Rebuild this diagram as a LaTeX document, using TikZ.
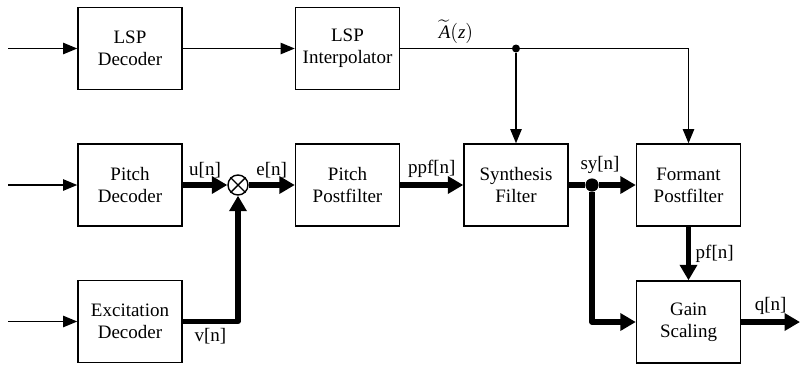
\documentclass[tikz,border=0pt]{standalone}
\usepackage{amsmath}
\usepackage{fontspec}
\setmainfont{Liberation Serif}
\usetikzlibrary{arrows.meta}

\begin{document}
\begin{tikzpicture}[x=0.025cm,y=-0.025cm,
    blk/.style={draw,line width=1pt,minimum width=2.6cm,minimum height=2.05cm,align=center,font=\fontsize{13.5}{15.5}\selectfont},
    lbl/.style={font=\fontsize{13.5}{15.5}\selectfont},
    sig/.style={line width=1pt,-{Triangle[length=10pt,width=8pt]}},
    bus/.style={line width=3.6pt,line join=round,-{Triangle[length=11pt,width=12pt]}},
    dot/.style={circle,fill,inner sep=0pt}]
\useasboundingbox (0,0) rectangle (800,364);

    \node[blk] (lspd) at (130,48.5) {LSP\\Decoder};
    \node[blk] (lspi) at (347.5,48.5) {LSP\\Interpolator};
    \node[blk] (pd) at (130,185) {Pitch\\Decoder};
    \node[blk] (pp) at (347.5,185) {Pitch\\Postfilter};
    \node[blk] (sf) at (516,185) {Synthesis\\Filter};
    \node[blk] (fp) at (688.5,185) {Formant\\Postfilter};
    \node[blk] (ed) at (130,321.5) {Excitation\\Decoder};
    \node[blk] (gs) at (688.5,322) {Gain\\Scaling};

    \node[circle,draw,line width=1pt,minimum size=0.5cm,inner sep=0pt] (mul) at (238,185) {};
    \draw[line width=1pt] (mul.north west) -- (mul.south east) (mul.north east) -- (mul.south west);
    \node[dot,minimum size=0.2cm] (j1) at (516,48.5) {};
    \node[dot,minimum size=0.33cm,label={[lbl,xshift=0.2cm]above:sy[n]}] (j2) at (592,185) {};

    \coordinate (in1) at (8,48.5);
    \coordinate (in2) at (8,185);
    \coordinate (in3) at (8,321.5);
    \coordinate (out) at (800,322);

    \draw[sig] (in1) -- (lspd);
    \draw[sig] (lspd) -- (lspi);
    \draw[line width=1pt] (lspi) -- node[lbl,above]{$\widetilde{\mathit{A}}(\mathit{z})$} (j1);
    \draw[sig] (j1) -- (sf);
    \draw[sig] (j1) -| (fp);
    \draw[sig] (in2) -- (pd);
    \draw[sig] (in3) -- (ed);

    \draw[bus] (pd) -- node[lbl,above]{u[n]} (mul);
    \draw[bus] (mul) -- node[lbl,above]{e[n]} (pp);
    \draw[bus] (ed) -| node[lbl,below,pos=0.25]{v[n]} (mul);
    \draw[bus] (pp) -- node[lbl,above]{ppf[n]} (sf);
    \draw[line width=3.6pt] (sf) -- (j2);
    \draw[bus] (j2) -- (fp);
    \draw[bus] (j2) |- (gs);
    \draw[bus] (fp) -- node[lbl,right]{pf[n]} (gs);
    \draw[bus] (gs) -- node[lbl,above]{q[n]} (out);
\end{tikzpicture}
\end{document}
